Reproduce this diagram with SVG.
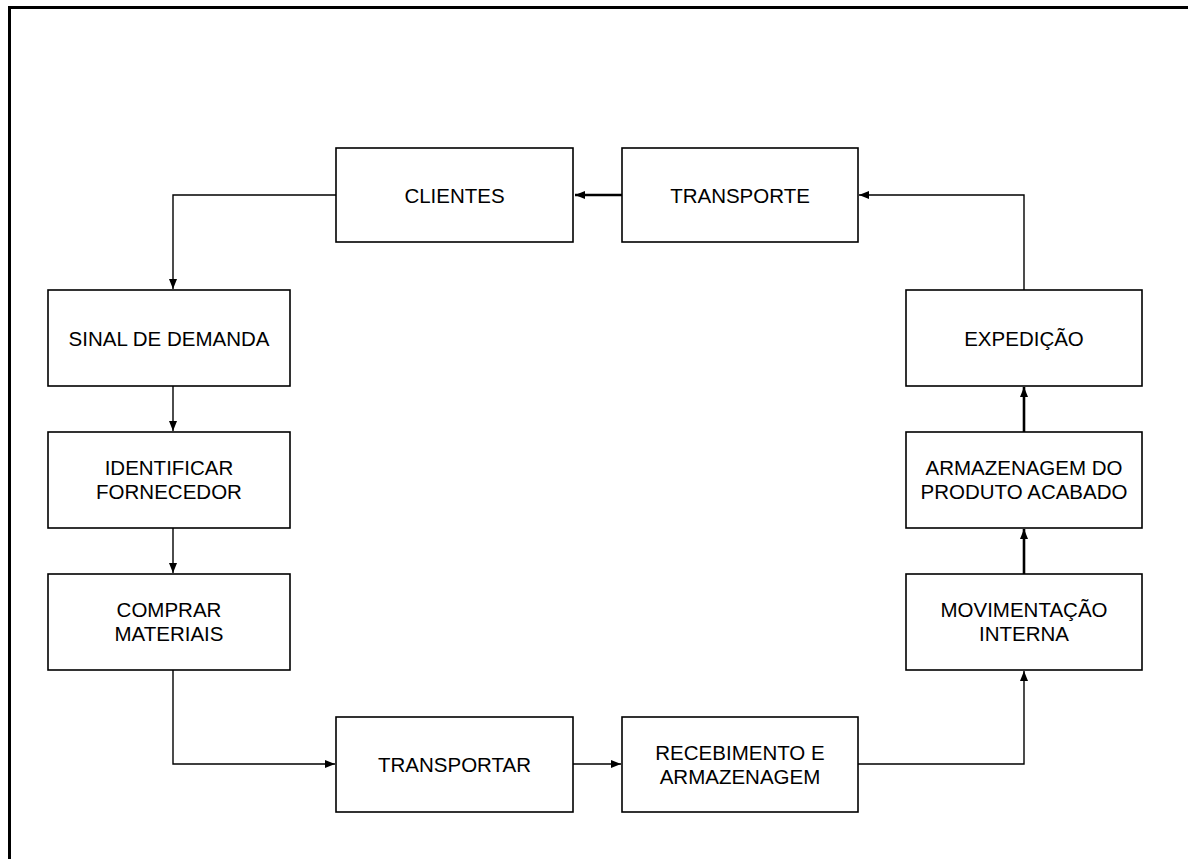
<svg xmlns="http://www.w3.org/2000/svg" width="1188" height="859" viewBox="0 0 1188 859">
<style>
.box{fill:#fff;stroke:#000;stroke-width:1.6}
.t{font-family:"Liberation Sans",Arial,sans-serif;font-size:20.5px;fill:#000;text-anchor:middle}
.c{fill:none;stroke:#000;stroke-width:1.4}
.ck{fill:none;stroke:#000;stroke-width:2.6}
</style>
<defs>
<marker id="ah" viewBox="0 0 10 8" refX="10" refY="4" markerWidth="10" markerHeight="8" markerUnits="userSpaceOnUse" orient="auto">
<path d="M0,0 L10,4 L0,8 Z" fill="#000"/>
</marker>
</defs>
<rect x="0" y="0" width="1188" height="859" fill="#fff"/>
<path d="M9.5,880 L9.5,7.5 L1210,7.5" fill="none" stroke="#000" stroke-width="3"/>
<g id="connectors">
<path class="ck" d="M622,195 L575,195" marker-end="url(#ah)"/>
<path class="c" d="M336,195 L173,195 L173,289" marker-end="url(#ah)"/>
<path class="c" d="M173,386 L173,431" marker-end="url(#ah)"/>
<path class="c" d="M173,528 L173,573" marker-end="url(#ah)"/>
<path class="c" d="M173,670 L173,764 L335,764" marker-end="url(#ah)"/>
<path class="c" d="M573,764 L621,764" marker-end="url(#ah)"/>
<path class="c" d="M858,764 L1024,764 L1024,671" marker-end="url(#ah)"/>
<path class="ck" d="M1024,574 L1024,529" marker-end="url(#ah)"/>
<path class="ck" d="M1024,432 L1024,387" marker-end="url(#ah)"/>
<path class="c" d="M1024,290 L1024,195 L859,195" marker-end="url(#ah)"/>
</g>
<g id="clientes"><rect class="box" x="336" y="148" width="237" height="94"/><text class="t" x="454.5" y="202.5">CLIENTES</text></g>
<g id="transporte"><rect class="box" x="622" y="148" width="236" height="94"/><text class="t" x="740" y="202.5">TRANSPORTE</text></g>
<g id="sinal"><rect class="box" x="48" y="290" width="242" height="96"/><text class="t" x="169" y="345.5">SINAL DE DEMANDA</text></g>
<g id="identificar"><rect class="box" x="48" y="432" width="242" height="96"/><text class="t" x="169" y="475">IDENTIFICAR</text><text class="t" x="169" y="499">FORNECEDOR</text></g>
<g id="comprar"><rect class="box" x="48" y="574" width="242" height="96"/><text class="t" x="169" y="617">COMPRAR</text><text class="t" x="169" y="641">MATERIAIS</text></g>
<g id="transportar"><rect class="box" x="336" y="717" width="237" height="95"/><text class="t" x="454.5" y="772">TRANSPORTAR</text></g>
<g id="recebimento"><rect class="box" x="622" y="717" width="236" height="95"/><text class="t" x="740" y="760">RECEBIMENTO E</text><text class="t" x="740" y="784">ARMAZENAGEM</text></g>
<g id="movimentacao"><rect class="box" x="906" y="574" width="236" height="96"/><text class="t" x="1024" y="617">MOVIMENTAÇÃO</text><text class="t" x="1024" y="641">INTERNA</text></g>
<g id="armazenagem"><rect class="box" x="906" y="432" width="236" height="96"/><text class="t" x="1024" y="475">ARMAZENAGEM DO</text><text class="t" x="1024" y="499">PRODUTO ACABADO</text></g>
<g id="expedicao"><rect class="box" x="906" y="290" width="236" height="96"/><text class="t" x="1024" y="345.5">EXPEDIÇÃO</text></g>
</svg>
